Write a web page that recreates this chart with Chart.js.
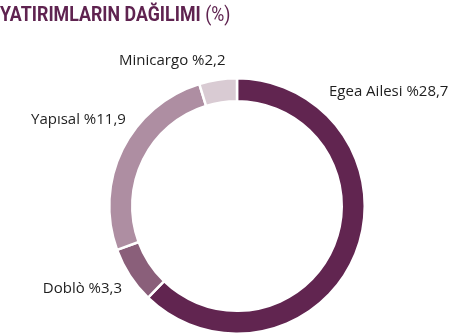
<!DOCTYPE html>
<html lang="tr">
<head>
<meta charset="utf-8">
<title>Yatırımların Dağılımı</title>
<script src="https://cdn.jsdelivr.net/npm/chart.js@4.4.0/dist/chart.umd.min.js"></script>
<style>
  html, body { margin: 0; padding: 0; background: #fff; }
  #wrap { position: relative; width: 474px; height: 336px; }
  #title {
    position: absolute; left: 0; top: 4px; margin: 0;
    font-family: Roboto, sans-serif; font-size: 20px; line-height: 20px;
    font-weight: 700; color: #5f2350; white-space: nowrap;
    transform: scaleX(0.89); transform-origin: left top;
  }
  #title span { font-weight: 400; }
</style>
</head>
<body>
<div id="wrap">
  <canvas id="chart" width="474" height="336"></canvas>
  <h1 id="title">YATIRIMLARIN DAĞILIMI <span>(%)</span></h1>
</div>
<script>
// Data
const categories = ["Egea Ailesi", "Doblò", "Yapısal", "Minicargo"];
const values = [28.7, 3.3, 11.9, 2.2];
const colors = ["#612550", "#8a5f7a", "#ae8ea2", "#d9cbd3"];

// where each label sits, as a fraction of the outer radius from the centre
const labelSpots = [
  { dx: 0.72, dy: -0.86, align: "left" },
  { dx: -0.90, dy: 0.68, align: "right" },
  { dx: -0.87, dy: -0.64, align: "right" },
  { dx: -0.09, dy: -1.10, align: "right" }
];

function fmt(v) {
  return "%" + v.toFixed(1).replace(".", ",");
}

// Labels outside the ring
const outerLabels = {
  id: "outerLabels",
  afterDatasetsDraw(chart) {
    const arc = chart.getDatasetMeta(0).data[0];
    if (!arc) return;
    const ctx = chart.ctx;
    const r = arc.outerRadius;
    ctx.save();
    ctx.font = "15px 'Open Sans', sans-serif";
    ctx.fillStyle = "#1e1e1e";
    ctx.textBaseline = "alphabetic";
    categories.forEach((c, i) => {
      const s = labelSpots[i];
      ctx.textAlign = s.align;
      ctx.fillText(c + " " + fmt(values[i]), arc.x + s.dx * r, arc.y + s.dy * r);
    });
    ctx.restore();
  }
};

new Chart(document.getElementById("chart").getContext("2d"), {
  type: "doughnut",
  data: {
    labels: categories,
    datasets: [{
      data: values,
      backgroundColor: colors,
      borderColor: "#ffffff",
      borderWidth: 2.5,
      hoverOffset: 0
    }]
  },
  options: {
    responsive: false,
    animation: false,
    cutout: "82%",
    layout: { padding: { top: 77, bottom: 1, left: 108, right: 108 } },
    plugins: {
      legend: { display: false },
      tooltip: { enabled: false },
      title: { display: false }
    }
  },
  plugins: [outerLabels]
});
</script>
</body>
</html>
